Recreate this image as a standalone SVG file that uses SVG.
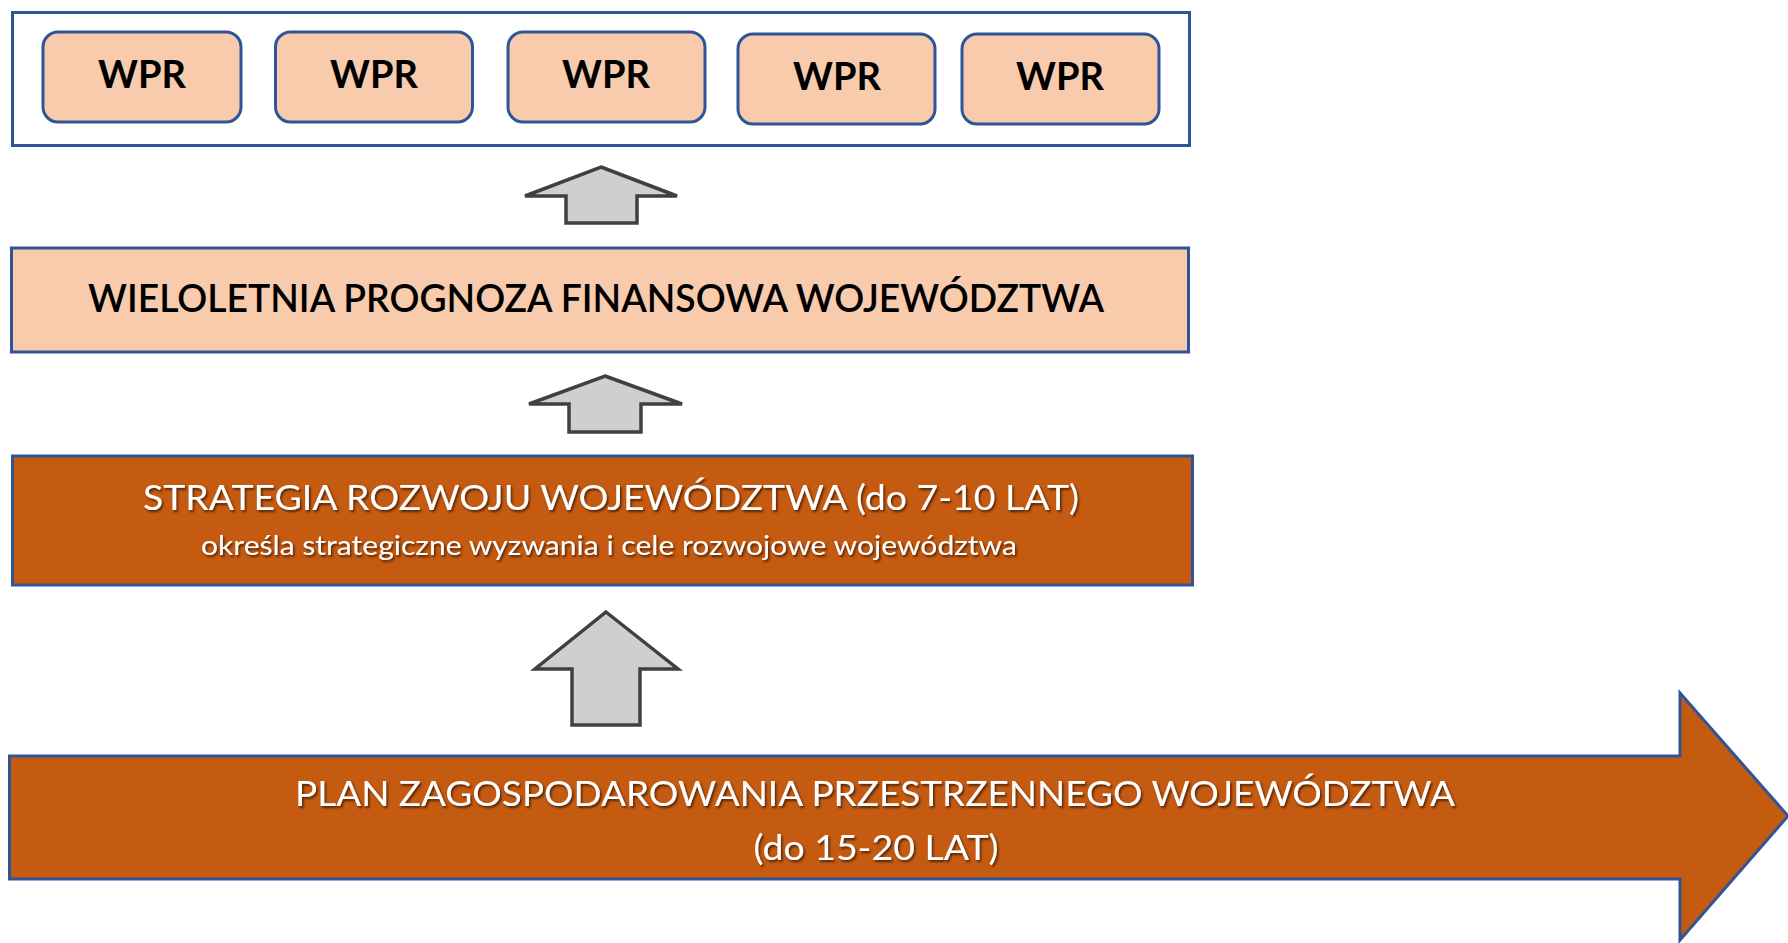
<svg xmlns="http://www.w3.org/2000/svg" width="1788" height="943" viewBox="0 0 1788 943">
<style>
.peach{fill:#F8CBAD;stroke:#2F5597;stroke-width:3}
.frame{fill:#FFFFFF;stroke:#2F5597;stroke-width:3}
.orange{fill:#C55A11;stroke:#2F5597;stroke-width:3}
.up{fill:#D0CECE;stroke:#404040;stroke-width:3.5;stroke-linejoin:miter}
.wpr{font-family:Lato,"Liberation Sans",sans-serif;font-weight:700;font-size:38px;fill:#000;text-anchor:middle}
.wpf{font-family:Lato,"Liberation Sans",sans-serif;font-weight:600;font-size:38px;fill:#000;text-anchor:middle}
.wt{font-family:Lato,"Liberation Sans",sans-serif;font-weight:400;fill:#FFFFFF;text-anchor:middle;filter:url(#sh)}
</style>
<defs>
<filter id="sh" x="-5%" y="-30%" width="110%" height="160%">
<feDropShadow dx="1.5" dy="2" stdDeviation="1.2" flood-color="#000" flood-opacity="0.6"/>
</filter>
</defs>
<rect width="1788" height="943" fill="#FFFFFF"/>
<g id="wpr-frame">
<rect class="frame" x="12.5" y="12.5" width="1177" height="133"/>
</g>
<g id="wpr1"><rect class="peach" x="43" y="32" width="198" height="90" rx="15"/><text class="wpr" x="142" y="88">WPR</text></g>
<g id="wpr2"><rect class="peach" x="275.5" y="32" width="197" height="90" rx="15"/><text class="wpr" x="374" y="88">WPR</text></g>
<g id="wpr3"><rect class="peach" x="508" y="32" width="197" height="90" rx="15"/><text class="wpr" x="606" y="88">WPR</text></g>
<g id="wpr4"><rect class="peach" x="738" y="34" width="197" height="90" rx="15"/><text class="wpr" x="837" y="90">WPR</text></g>
<g id="wpr5"><rect class="peach" x="962" y="34" width="197" height="90" rx="15"/><text class="wpr" x="1060" y="90">WPR</text></g>
<g id="wpf">
<rect class="peach" x="11.5" y="248" width="1177" height="104"/>
<text class="wpf" x="596" y="312" textLength="1016" lengthAdjust="spacingAndGlyphs">WIELOLETNIA PROGNOZA FINANSOWA WOJEWÓDZTWA</text>
</g>
<g id="strategia">
<rect class="orange" x="12.5" y="456" width="1180" height="129"/>
<text class="wt" x="611" y="510" font-size="35" textLength="936" lengthAdjust="spacingAndGlyphs">STRATEGIA ROZWOJU WOJEWÓDZTWA (do 7-10 LAT)</text>
<text class="wt" x="609" y="555" font-size="27" textLength="816" lengthAdjust="spacingAndGlyphs">określa strategiczne wyzwania i cele rozwojowe województwa</text>
</g>
<g id="plan">
<polygon class="orange" points="9.5,756 1680,756 1680,693 1788,816 1680,940 1680,879 9.5,879"/>
<text class="wt" x="875" y="806" font-size="35" textLength="1160" lengthAdjust="spacingAndGlyphs">PLAN ZAGOSPODAROWANIA PRZESTRZENNEGO WOJEWÓDZTWA</text>
<text class="wt" x="876" y="860" font-size="35" textLength="245" lengthAdjust="spacingAndGlyphs">(do 15-20 LAT)</text>
</g>
<g id="connectors">
<polygon class="up" points="601,167 677,196 637,196 637,223 566,223 566,196 525,196"/>
<polygon class="up" points="605,376 682,404 641,404 641,432 569,432 569,404 529,404"/>
<polygon class="up" points="606,612 678,669 640,669 640,725 572,725 572,669 535,669"/>
</g>
</svg>
